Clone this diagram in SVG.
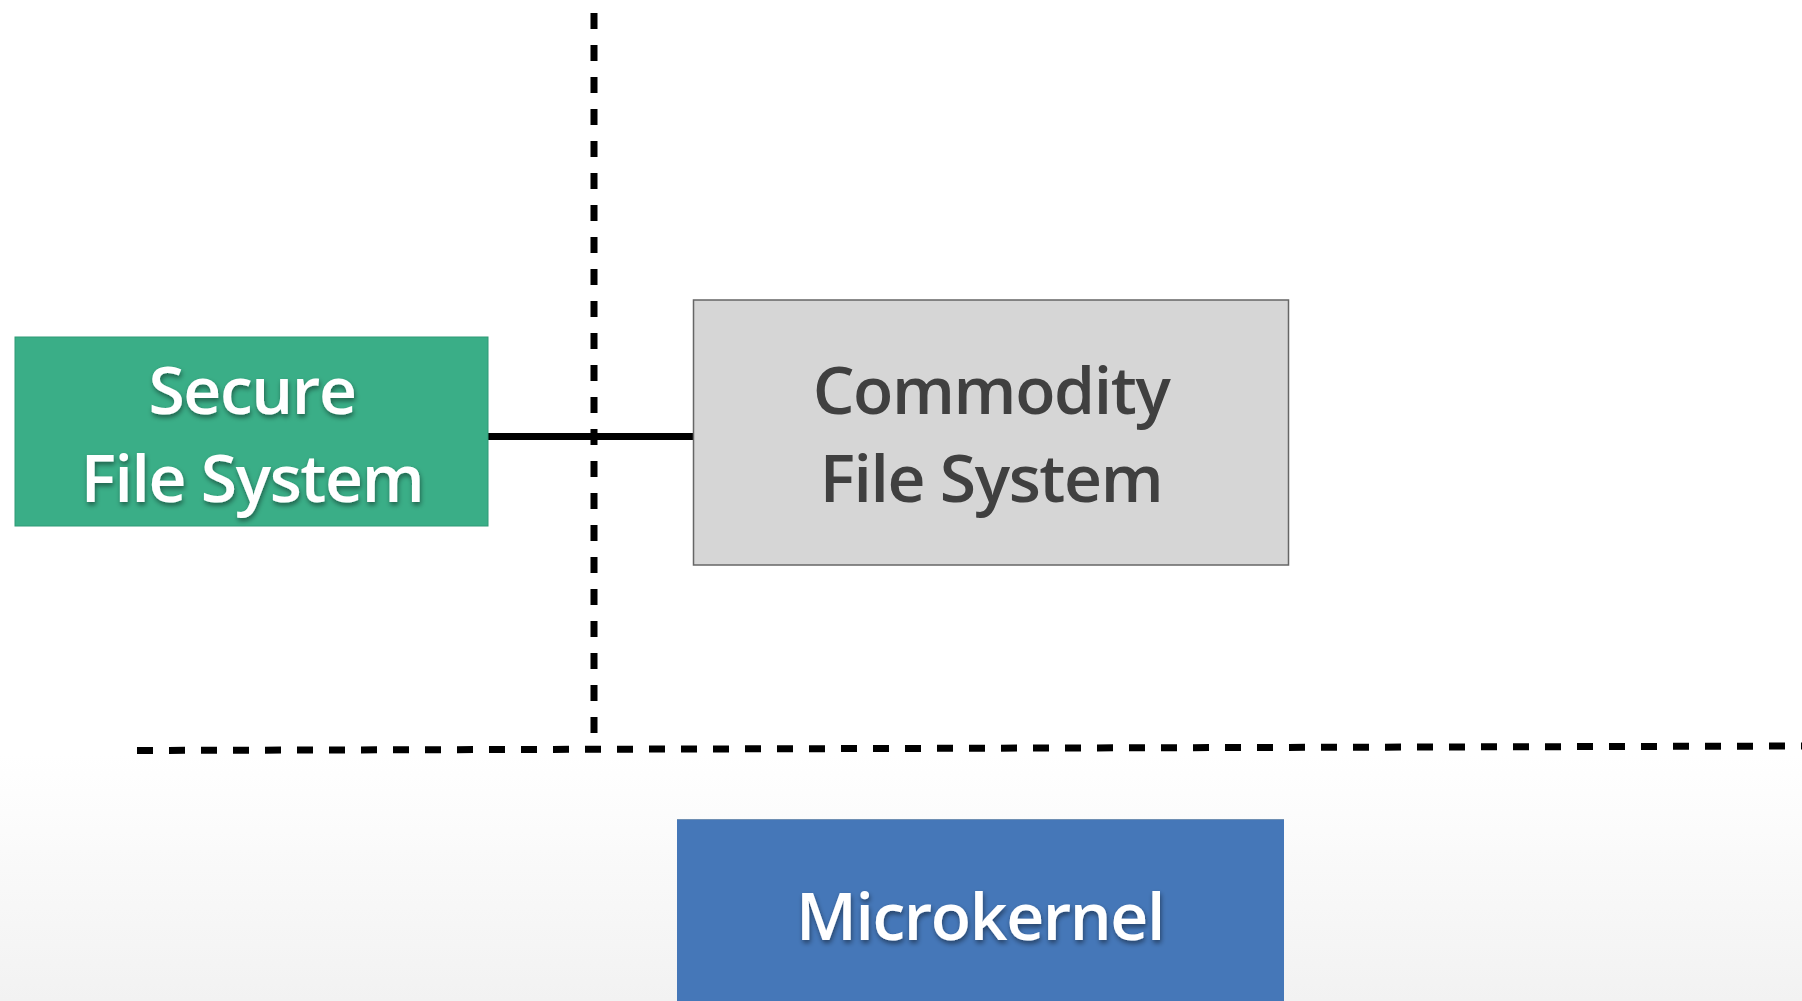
<svg xmlns="http://www.w3.org/2000/svg" width="1802" height="1001" viewBox="0 0 1802 1001">
<defs>
<linearGradient id="bg" x1="0" y1="0" x2="0" y2="1">
<stop offset="0" stop-color="#ffffff"/>
<stop offset="1" stop-color="#f2f2f2"/>
</linearGradient>
<filter id="sh" x="-10%" y="-20%" width="120%" height="150%">
<feDropShadow dx="1" dy="3" stdDeviation="2.5" flood-color="#000" flood-opacity="0.45"/>
</filter>
<style>
.lbl{font-family:"Open Sans","Noto Sans","Liberation Sans",sans-serif;font-weight:600;font-size:66px;letter-spacing:-1.4px;text-anchor:middle}
.w{fill:#ffffff;filter:url(#sh)}
.g{fill:#404040}
.dash{fill:none;stroke:#000;stroke-width:7;stroke-dasharray:16 16}
</style>
</defs>
<rect x="0" y="0" width="1802" height="1001" fill="#ffffff"/>
<rect x="0" y="755" width="1802" height="246" fill="url(#bg)"/>
<g id="connectors">
<line class="dash" x1="594" y1="13" x2="594" y2="740"/>
<line class="dash" x1="137" y1="750.5" x2="1802" y2="746"/>
<line x1="488" y1="436.5" x2="693" y2="436.5" stroke="#000" stroke-width="7"/>
</g>
<g id="secure-fs">
<rect x="15" y="337" width="473" height="189" fill="#3aae87" stroke="#2f9a76" stroke-width="1"/>
<text class="lbl w" x="252" y="414">Secure</text>
<text class="lbl w" x="252" y="502">File System</text>
</g>
<g id="commodity-fs">
<rect x="693.5" y="300" width="595" height="265" fill="#d6d6d6" stroke="#666666" stroke-width="1.5"/>
<text class="lbl g" x="991" y="414">Commodity</text>
<text class="lbl g" x="991" y="502">File System</text>
</g>
<g id="microkernel">
<rect x="677" y="819" width="607" height="190" fill="#4577b8"/>
<line x1="677" y1="819.5" x2="1284" y2="819.5" stroke="#6f8fb3" stroke-width="1"/>
<text class="lbl w" x="980" y="940">Microkernel</text>
</g>
</svg>
